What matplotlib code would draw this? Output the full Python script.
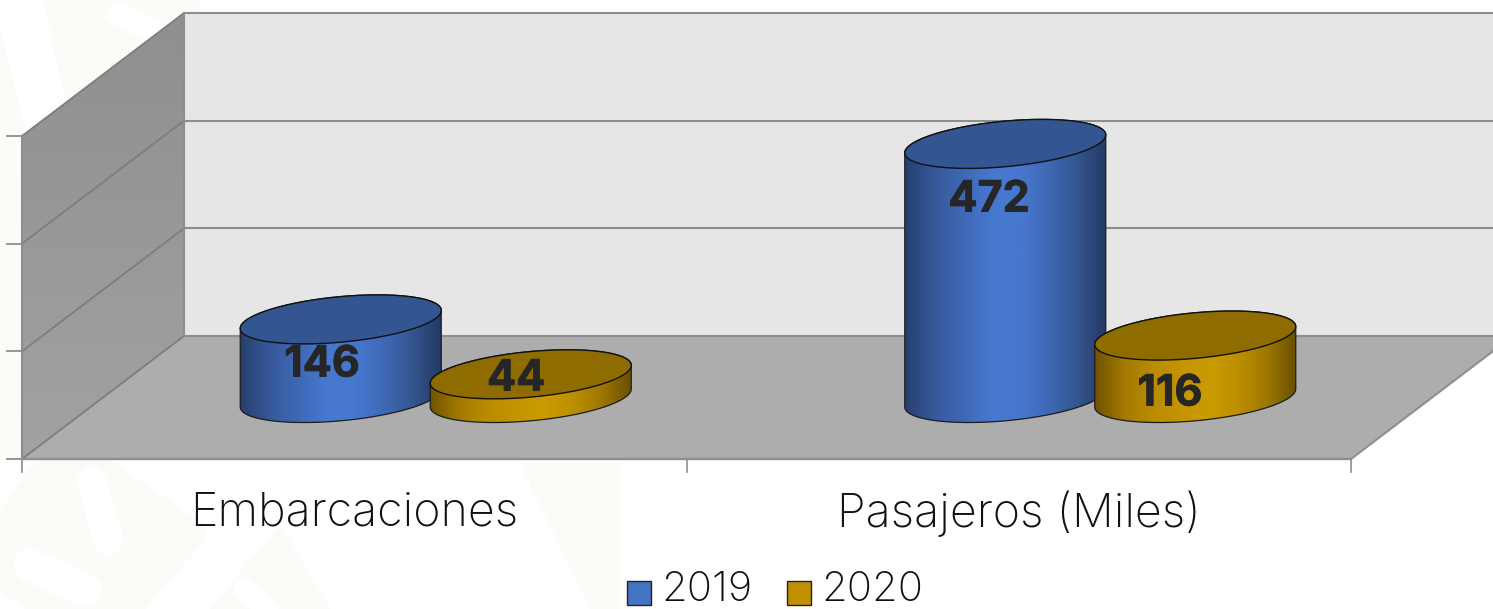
import numpy as np
import matplotlib
matplotlib.use('Agg')
import matplotlib.pyplot as plt
import matplotlib.patheffects as pe
from matplotlib.colors import LinearSegmentedColormap
from matplotlib.patches import Polygon, Rectangle

categories = ['Embarcaciones', 'Pasajeros (Miles)']
years = ['2019', '2020']
values_2019 = [146, 472]
values_2020 = [44, 116]
y_ticks = [0, 200, 400, 600]

LINE = '#8e8e8e'
WALL_LINE = '#7d7d7d'
CREAM = '#fcfbf8'
FONT = ['Inter', 'DejaVu Sans']

# px layout of the fake 3d box
PX_PER_UNIT = 323 / 600
X0, X1 = 22, 1351
DX, DY = 162, 123
FLOOR_Y = 459
BASE_Y = 398
RX, RY, SHEAR = 100.5, 22.8, -9
GAP = 95

fig = plt.figure(figsize=(14.93, 6.09), dpi=100)
ax = fig.add_axes([0, 0, 1, 1])
ax.set_xlim(0, 1493)
ax.set_ylim(609, 0)
ax.set_autoscale_on(False)
ax.axis('off')


def gradient(patch, stops, vertical=False):
    cmap = LinearSegmentedColormap.from_list('g', stops)
    g = np.linspace(0, 1, 256)
    g = g.reshape(-1, 1) if vertical else g.reshape(1, -1)
    xy = patch.get_xy()
    ext = (xy[:, 0].min(), xy[:, 0].max(), xy[:, 1].max(), xy[:, 1].min())
    im = ax.imshow(g, cmap=cmap, extent=ext, aspect='auto', origin='upper',
                   zorder=patch.get_zorder(), vmin=0, vmax=1)
    im.set_clip_path(patch)


# watermark behind the chart
cream = [
    [(0, 0), (200, 0), (200, 60), (0, 140)],
    [(0, 140), (30, 130), (30, 460), (0, 460)],
    [(35, 460), (0, 511), (0, 590), (25, 609), (145, 609), (205, 540), (205, 525), (110, 460)],
    [(210, 609), (280, 525), (330, 609)],
    [(520, 462), (620, 462), (620, 609), (590, 609)],
]
for c in cream:
    ax.add_patch(Polygon(c, fc=CREAM, ec='none', zorder=0))
for xs, ys, w in [([16, 50], [-10, 135], 34), ([118, 170], [14, 40], 16),
                  ([92, 108], [482, 540], 22), ([30, 85], [565, 590], 24),
                  ([245, 280], [590, 620], 16)]:
    ax.plot(xs, ys, color='white', lw=w, solid_capstyle='round', zorder=0.5)

# walls and floor
wall_top = FLOOR_Y - 600 * PX_PER_UNIT
ax.add_patch(Rectangle((X0 + DX, wall_top - DY), 1493, 600 * PX_PER_UNIT,
                       fc='#e6e6e6', ec='none', zorder=1))
wall = Polygon([(X0, wall_top), (X0 + DX, wall_top - DY), (X0 + DX, FLOOR_Y - DY), (X0, FLOOR_Y)],
               closed=True, fc='none', ec='none', zorder=1)
ax.add_patch(wall)
gradient(wall, ['#8f8f8f', '#a2a2a2'], vertical=True)
ax.add_patch(Polygon([(X0, FLOOR_Y), (X1, FLOOR_Y), (X1 + DX, FLOOR_Y - DY), (X0 + DX, FLOOR_Y - DY)],
                     fc='#adadad', ec='none', zorder=1))

for v in y_ticks:
    yb = FLOOR_Y - v * PX_PER_UNIT
    ax.plot([7, X0], [yb, yb], color=LINE, lw=1.3, zorder=2)
    ax.plot([X0, X0 + DX], [yb, yb - DY], color=WALL_LINE, lw=1.3, zorder=2)
    ax.plot([X0 + DX, 1500], [yb - DY, yb - DY], color=LINE, lw=1.5, zorder=2)
ax.plot([X0, X1], [FLOOR_Y, FLOOR_Y], color=LINE, lw=1.7, zorder=2)
ax.plot([X0, X0], [wall_top, FLOOR_Y], color=LINE, lw=1.5, zorder=2)
ax.plot([X0 + DX, X0 + DX], [wall_top - DY, FLOOR_Y - DY], color=LINE, lw=1.5, zorder=2)
ax.plot([X1, X1 + DX], [FLOOR_Y, FLOOR_Y - DY], color=LINE, lw=1.5, zorder=2)
slot = (X1 - X0) / len(categories)
for i in range(len(categories) + 1):
    ax.plot([X0 + i * slot] * 2, [FLOOR_Y, 472], color=LINE, lw=1.2, zorder=2)

BLUE_SIDE = ['#263f6e', '#36589a', '#3f68b4', '#4678cf', '#4778d0', '#3f69b6', '#34568f', '#243a66']
BLUE_TOP = '#335692'
GOLD_SIDE = ['#6f5300', '#a27a00', '#b98c00', '#c49500', '#cb9b00', '#bd8f00', '#9d7700', '#6a5000']
GOLD_TOP = '#8f6c00'


def cylinder(cx, value, side, top, z):
    t = np.linspace(0, np.pi, 80)
    cy = BASE_Y - value * PX_PER_UNIT
    # bottom edge left to right, then back along the top
    low = np.column_stack([cx + RX * np.cos(t[::-1]),
                           BASE_Y + SHEAR * np.cos(t[::-1]) + RY * np.sin(t[::-1])])
    up = np.column_stack([cx + RX * np.cos(t),
                          cy + SHEAR * np.cos(t) - RY * np.sin(t)])
    body = Polygon(np.vstack([low, up]), closed=True, fc='none', ec='none', zorder=z)
    ax.add_patch(body)
    gradient(body, side)
    ax.add_patch(Polygon(np.vstack([low, up]), closed=True, fc='none', ec='#1c1c1c', lw=0.9, zorder=z + 0.1))
    tt = np.linspace(0, 2 * np.pi, 160)
    ax.add_patch(Polygon(np.column_stack([cx + RX * np.cos(tt), cy + SHEAR * np.cos(tt) + RY * np.sin(tt)]),
                         closed=True, fc=top, ec='#111111', lw=1.0, zorder=z + 0.2))


for i in range(len(categories)):
    mid = X0 + (i + 0.5) * slot + DX / 2 + 0.5
    cylinder(mid - GAP, values_2019[i], BLUE_SIDE, BLUE_TOP, 3 + i)
    cylinder(mid + GAP, values_2020[i], GOLD_SIDE, GOLD_TOP, 3.5 + i)
    ax.text(X0 + (i + 0.5) * slot, 514, categories[i], ha='center', va='center',
            fontsize=33.5, fontweight='light', color='#111111', family=FONT, zorder=8)

# value labels sit where the original put them, not at a fixed offset
for val, lx, ly in zip(values_2019 + values_2020, [322, 989, 516, 1170], [365, 200, 379, 394]):
    ax.text(lx, ly, str(val), ha='center', va='center', fontsize=31, fontweight='bold', color='#262626',
            family=FONT, zorder=9, path_effects=[pe.withStroke(linewidth=0.6, foreground='#262626')])

# legend
for yr, lx, col in zip(years, [627, 787], ['#4472c4', '#bf9000']):
    ax.add_patch(Rectangle((lx, 581), 24, 24, fc=col, ec='#222222', lw=1, zorder=8))
    ax.text(lx + 34, 590, yr, ha='left', va='center', fontsize=30, fontweight='light', color='#111111',
            family=FONT, zorder=8)

fig.savefig('out.png', dpi=100)
